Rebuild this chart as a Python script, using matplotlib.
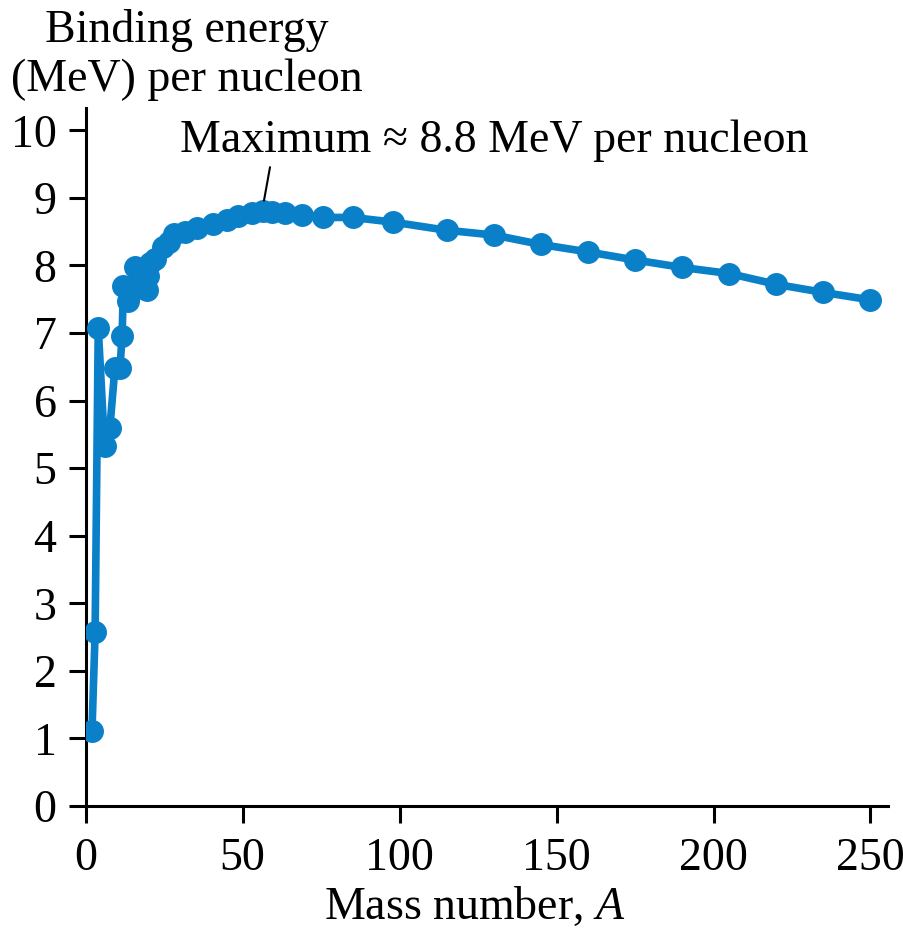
import matplotlib
matplotlib.use("Agg")
import matplotlib.pyplot as plt

# mass number and binding energy per nucleon (MeV)
mass_number = [2, 3, 4, 6, 7.7, 9.3, 10.9, 11.6, 12, 13.5, 14.5, 15.7, 17, 18.2,
               19.5, 19.8, 20.5, 22, 24.5, 26.5, 28, 31.5, 35.5, 40.5, 45, 48.5,
               53, 56.5, 59.5, 63.5, 69, 75.5, 85, 98, 115, 130, 145, 160, 175,
               190, 205, 220, 235, 250]
binding = [1.11, 2.57, 7.07, 5.33, 5.6, 6.48, 6.48, 6.95, 7.69, 7.48, 7.6, 7.98,
           7.7, 7.75, 7.63, 7.85, 8.03, 8.1, 8.27, 8.35, 8.47, 8.49, 8.55, 8.61,
           8.67, 8.73, 8.78, 8.8, 8.79, 8.77, 8.75, 8.71, 8.71, 8.64, 8.52, 8.45,
           8.31, 8.2, 8.08, 7.97, 7.88, 7.72, 7.6, 7.49]

x_ticks = [0, 50, 100, 150, 200, 250]
y_ticks = list(range(0, 11))

plt.rcParams['font.family'] = ['Liberation Serif', 'DejaVu Serif']
plt.rcParams['mathtext.fontset'] = 'custom'
plt.rcParams['mathtext.it'] = 'Liberation Serif:italic'
plt.rcParams['mathtext.rm'] = 'Liberation Serif'

blue = '#0a80c8'
fs = 33

fig = plt.figure(figsize=(9.04, 9.43), dpi=100)
ax = fig.add_axes([0.0948, 0.1453, 0.8872, 0.7402])

ax.plot(mass_number, binding, color=blue, lw=5.5, marker='o', ms=15.5,
        solid_joinstyle='round', zorder=3)

ax.set_xlim(0, 255.5)
ax.set_ylim(0, 10.33)
ax.set_xticks(x_ticks)
ax.set_yticks(y_ticks)
ax.spines['top'].set_visible(False)
ax.spines['right'].set_visible(False)
for s in ('left', 'bottom'):
    ax.spines[s].set_linewidth(2.2)
ax.tick_params(axis='both', direction='out', length=12, width=2.2,
               labelsize=fs)
ax.tick_params(axis='y', pad=9)
ax.tick_params(axis='x', pad=11)

ax.annotate('Maximum \u2248 8.8 MeV per nucleon', xy=(56.8, 8.96),
            xytext=(30, 9.85), fontsize=fs, va='center', ha='left',
            arrowprops=dict(arrowstyle='-', color='black', lw=1.5,
                            shrinkA=2, shrinkB=0,
                            relpos=(0.145, 0.0)))

fig.text(187 / 904, 1 - 55 / 943, 'Binding energy\n(MeV) per nucleon',
         fontsize=fs, ha='center', va='center', linespacing=1.22)
fig.text(475 / 904, 1 - 907 / 943, 'Mass number, $A$', fontsize=fs,
         ha='center', va='center')

fig.savefig('out.png', dpi=100, facecolor='white')
